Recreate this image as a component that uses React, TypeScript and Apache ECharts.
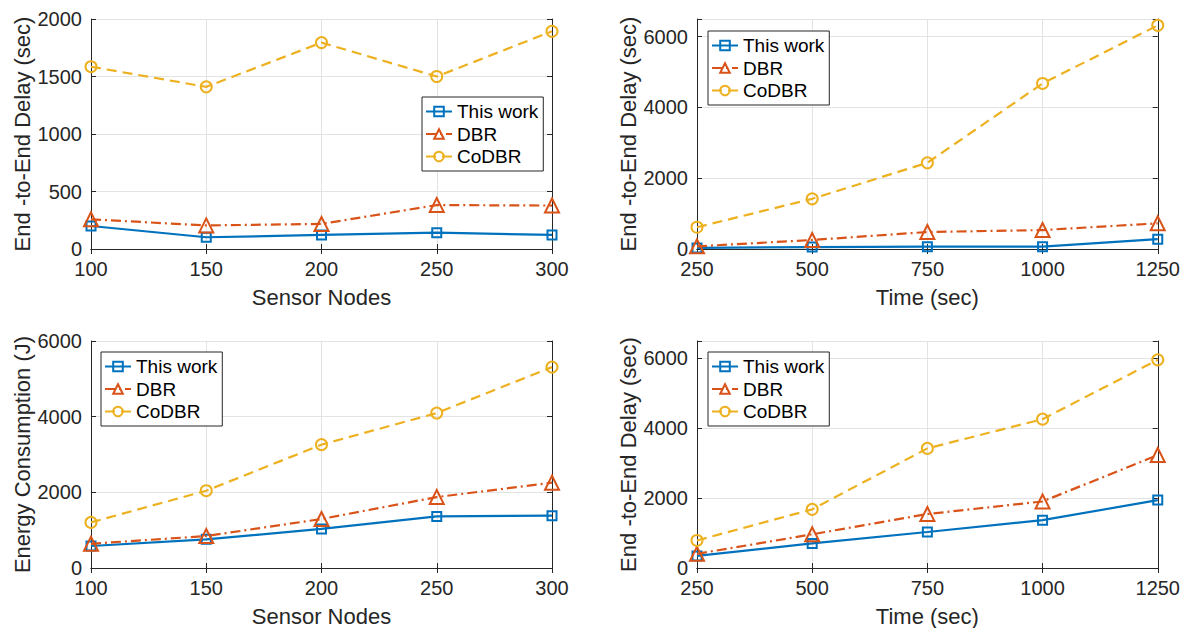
import React, { useEffect, useRef } from "react";
import * as echarts from "echarts";

// ---- data ----
const sensorNodes = [100, 150, 200, 250, 300];
const timeSec = [250, 500, 750, 1000, 1250];
const seriesNames = ["This work", "DBR", "CoDBR"];

// top-left: delay vs sensor nodes
const delayNodesThisWork = [200, 102, 122, 142, 122];
const delayNodesDBR = [258, 205, 218, 382, 378];
const delayNodesCoDBR = [1585, 1410, 1795, 1500, 1893];

// top-right: delay vs time
const delayTimeThisWork = [30, 55, 65, 65, 278];
const delayTimeDBR = [75, 255, 480, 535, 725];
const delayTimeCoDBR = [615, 1418, 2437, 4678, 6320];

// bottom-left: energy vs sensor nodes
const energyNodesThisWork = [582, 757, 1033, 1364, 1383];
const energyNodesDBR = [640, 845, 1295, 1875, 2255];
const energyNodesCoDBR = [1205, 2043, 3260, 4096, 5310];

// bottom-right: delay vs time (second scenario)
const delayTime2ThisWork = [346, 704, 1031, 1369, 1944];
const delayTime2DBR = [405, 965, 1545, 1905, 3235];
const delayTime2CoDBR = [789, 1679, 3425, 4262, 5961];

const nodeTicks = { min: 100, max: 300, interval: 50 };
const timeTicks = { min: 250, max: 1250, interval: 250 };

const FONT = "Liberation Sans, Arial, Helvetica, sans-serif";
const AX = "#262626";
const GRIDC = "#e3e3e3";
const COLORS = ["#0072BD", "#D95319", "#EDB120"];

export default function App() {
  const ref = useRef<HTMLDivElement>(null);
  useEffect(() => {
    document.body.style.margin = "0";
    if (!ref.current) return;
    const chart = echarts.init(ref.current, undefined, { renderer: "svg" });

    const grids = [
      { left: 91, top: 19, width: 461, height: 230 },
      { left: 697, top: 19, width: 461, height: 230 },
      { left: 91, top: 341, width: 461, height: 230 },
      { left: 697, top: 341, width: 461, height: 230 },
    ];
    const xDefs = [
      { ...nodeTicks, name: "Sensor Nodes" },
      { ...timeTicks, name: "Time (sec)" },
      { ...nodeTicks, name: "Sensor Nodes" },
      { ...timeTicks, name: "Time (sec)" },
    ];
    const yDefs = [
      { min: 0, max: 2000, interval: 500, step: 500, name: "End -to-End Delay (sec)", gap: 57 },
      { min: 0, max: 6500, interval: 2000, step: 2000, name: "End -to-End Delay (sec)", gap: 54 },
      { min: 0, max: 6000, interval: 2000, step: 2000, name: "Energy Consumption (J)", gap: 57 },
      { min: 0, max: 6500, interval: 2000, step: 2000, name: "End -to-End Delay (sec)", gap: 54 },
    ];
    const data = [
      [sensorNodes, [delayNodesThisWork, delayNodesDBR, delayNodesCoDBR]],
      [timeSec, [delayTimeThisWork, delayTimeDBR, delayTimeCoDBR]],
      [sensorNodes, [energyNodesThisWork, energyNodesDBR, energyNodesCoDBR]],
      [timeSec, [delayTime2ThisWork, delayTime2DBR, delayTime2CoDBR]],
    ] as [number[], number[][]][];
    const legendPos = [
      { left: 422, top: 97 },
      { left: 708, top: 31 },
      { left: 101, top: 352 },
      { left: 708, top: 352 },
    ];

    const xAxis: any[] = [];
    const yAxis: any[] = [];
    const series: any[] = [];
    const tick = { show: true, inside: true, length: 5, lineStyle: { color: AX, width: 1 } };

    grids.forEach((g, i) => {
      const xd = xDefs[i];
      const yd = yDefs[i];
      xAxis.push({
        type: "value", gridIndex: i, position: "bottom",
        min: xd.min, max: xd.max, interval: xd.interval,
        name: xd.name, nameLocation: "middle", nameGap: 37,
        nameTextStyle: { fontFamily: FONT, fontSize: 22, color: AX },
        axisLine: { show: true, lineStyle: { color: AX, width: 1 } },
        axisTick: tick,
        axisLabel: {
          fontFamily: FONT, fontSize: 20, color: AX, margin: 10,
          formatter: (v: number) => String(v),
        },
        splitLine: { show: true, lineStyle: { color: GRIDC, width: 1 } },
      });
      xAxis.push({
        type: "value", gridIndex: i, position: "top",
        min: xd.min, max: xd.max, interval: xd.interval,
        axisLine: { show: true, lineStyle: { color: AX, width: 1 } },
        axisTick: tick, axisLabel: { show: false }, splitLine: { show: false },
      });
      yAxis.push({
        type: "value", gridIndex: i, position: "left",
        min: yd.min, max: yd.max, interval: yd.interval,
        name: yd.name, nameLocation: "middle", nameGap: yd.gap,
        nameTextStyle: { fontFamily: FONT, fontSize: 22, color: AX },
        axisLine: { show: true, lineStyle: { color: AX, width: 1 } },
        axisTick: tick,
        axisLabel: {
          fontFamily: FONT, fontSize: 20, color: AX, margin: 9,
          formatter: (v: number) => (v % yd.step === 0 ? String(v) : ""),
        },
        splitLine: { show: true, lineStyle: { color: GRIDC, width: 1 } },
      });
      yAxis.push({
        type: "value", gridIndex: i, position: "right",
        min: yd.min, max: yd.max, interval: yd.interval,
        axisLine: { show: true, lineStyle: { color: AX, width: 1 } },
        axisTick: tick, axisLabel: { show: false }, splitLine: { show: false },
      });

      const [xs, ys] = data[i];
      const styles = [
        { symbol: "rect", symbolSize: 9, type: "solid" as any },
        { symbol: "triangle", symbolSize: 14, type: [10, 4, 2, 4] },
        { symbol: "circle", symbolSize: 11, type: [10, 6] },
      ];
      ys.forEach((vals, k) => {
        series.push({
          type: "line",
          name: seriesNames[k],
          xAxisIndex: i * 2,
          yAxisIndex: i * 2,
          data: xs.map((x, j) => [x, vals[j]]),
          symbol: styles[k].symbol,
          symbolSize: styles[k].symbolSize,
          showAllSymbol: true,
          lineStyle: { color: COLORS[k], width: 2.2, type: styles[k].type },
          itemStyle: { color: "rgba(255,255,255,0)", borderColor: COLORS[k], borderWidth: 2 },
          emphasis: { disabled: true },
          z: 3 + k,
        });
      });
    });

    const legend = legendPos.map((p) => ({
      left: p.left, top: p.top,
      orient: "vertical",
      data: seriesNames,
      itemWidth: 26, itemHeight: 12, itemGap: 1.5,
      padding: [4, 5, 4, 3],
      borderColor: AX, borderWidth: 1, backgroundColor: "#fff",
      textStyle: { fontFamily: FONT, fontSize: 19, color: "#000", lineHeight: 21 },
      selectedMode: false,
    }));

    chart.setOption({
      animation: false,
      backgroundColor: "#fff",
      grid: grids.map((g) => ({ ...g, containLabel: false })),
      xAxis, yAxis, series, legend,
    });
    return () => chart.dispose();
  }, []);
  return (
    <div
      ref={ref}
      style={{ width: 1183, height: 628, position: "absolute", left: 0, top: 0 }}
    />
  );
}
